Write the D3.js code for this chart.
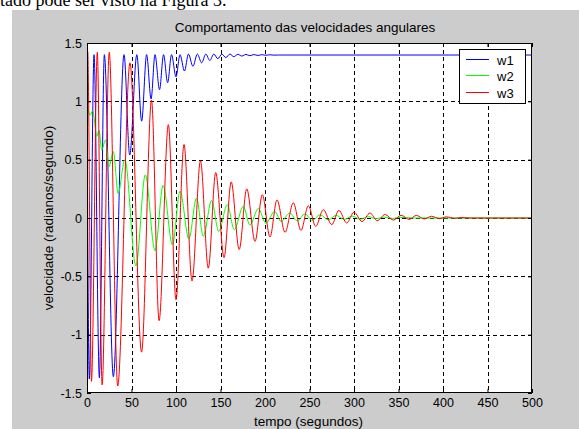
<!DOCTYPE html>
<html>
<head>
<meta charset="utf-8">
<script src="https://cdn.jsdelivr.net/npm/d3@7"></script>
<style>
  html, body { margin: 0; padding: 0; background: #ffffff; }
  svg { display: block; }
</style>
</head>
<body>
<svg id="chart" width="579" height="429"></svg>
<script>
// ---------------- DATA ----------------
const chartTitle = "Comportamento das velocidades angulares";
const xLabel = "tempo (segundos)";
const yLabel = "velocidade (radianos/segundo)";
const seriesNames = ["w1", "w2", "w3"];
const xTicks = [0, 50, 100, 150, 200, 250, 300, 350, 400, 450, 500];
const yTicks = [-1.5, -1, -0.5, 0, 0.5, 1, 1.5];
const yTickLabels = ["-1.5", "-1", "-0.5", "0", "0.5", "1", "1.5"];

// [time, value] at turning points of each curve
const w1 = [
  [0, 1.0], [2.6, -1.38], [7.9, 1.40], [13.9, -1.37], [19.5, 1.40], [29.6, -1.36],
  [41.6, 1.40], [48, 0.54], [56, 1.40], [61.4, 0.83], [67, 1.40], [72, 1.02],
  [76.4, 1.40], [81.5, 1.10], [86, 1.40], [90.6, 1.16], [95, 1.40], [100, 1.21],
  [104.5, 1.40], [109.5, 1.26], [114, 1.405], [119, 1.30], [124, 1.405], [128.8, 1.33],
  [133.5, 1.405], [138, 1.35], [142.5, 1.405], [147, 1.365], [151.5, 1.405], [156, 1.375],
  [160.5, 1.405], [165, 1.383], [169.5, 1.403], [174, 1.388], [178.5, 1.402], [183, 1.391],
  [187.5, 1.401], [192, 1.393], [196.5, 1.400], [201, 1.395], [205.5, 1.399], [210, 1.396],
  [215, 1.397], [500, 1.397]
];
const w2 = [
  [0, 1.0], [3.4, 0.88], [6.5, 0.92], [10.9, 0.70], [13.5, 0.75], [16.5, 0.585],
  [21, 0.67], [24.7, 0.44], [29.6, 0.57], [35, 0.21], [42.5, 0.50], [55, -0.41],
  [65.5, 0.37], [76.4, -0.28], [85.5, 0.28], [96, -0.23], [104.5, 0.23], [114.5, -0.18],
  [123, 0.17], [130.7, -0.157], [140, 0.15], [148, -0.115], [157.6, 0.114], [165.5, -0.10],
  [175.6, 0.10], [183, -0.06], [192.5, 0.08], [201, -0.045], [211, 0.057], [218, -0.03],
  [228, 0.043], [236, -0.025], [245, 0.035], [253, -0.02], [262, 0.028], [271, -0.015],
  [280, 0.022], [289, -0.012], [298, 0.016], [307, -0.01], [316, 0.012], [325, -0.006],
  [334, 0.008], [343, -0.004], [352, 0.005], [365, 0], [500, 0]
];
const w3 = [
  [0, 1.40], [0.8, 1.43], [5, -1.40], [11.6, 1.42], [17, -1.43], [25, 1.42],
  [34.5, -1.44], [48.3, 1.33], [61.3, -1.15], [72.5, 1.01], [81, -0.88], [91.4, 0.80],
  [100, -0.70], [109, 0.63], [118, -0.54], [127.5, 0.49], [136.3, -0.43], [144.6, 0.39],
  [154, -0.34], [162, 0.31], [171, -0.27], [179.5, 0.25], [188.8, -0.20], [197, 0.20],
  [205.6, -0.163], [213.5, 0.155], [222.5, -0.123], [231.8, 0.13], [240.4, -0.106], [248.7, 0.105],
  [257, -0.072], [265.5, 0.071], [275, -0.057], [283, 0.065], [291.8, -0.043], [300, 0.05],
  [309, -0.03], [318, 0.043], [326, -0.023], [335, 0.03], [344, -0.018], [353, 0.023],
  [362, -0.012], [370, 0.022], [379, -0.008], [387, 0.015], [396, -0.005], [404, 0.01],
  [413, -0.003], [421, 0.004], [430, 0], [500, 0]
];
const seriesData = [w1, w2, w3];
const seriesColors = ["#0000ff", "#00ff00", "#ff0000"];

// ---------------- LAYOUT ----------------
const svg = d3.select("#chart");
const W = 579, H = 429;
const plot = { left: 87, top: 43, right: 532, bottom: 393 };

// caption text above the figure (part of the page, cut by the top edge as in the reference)
svg.append("text")
  .attr("x", 0).attr("y", 6)
  .attr("font-family", "'Liberation Serif', 'Times New Roman', serif")
  .attr("font-size", 18)
  .attr("fill", "#000")
  .text("tado pode ser visto na Figura 3.");

// figure background
svg.append("rect")
  .attr("x", 12).attr("y", 10).attr("width", W - 12).attr("height", H - 10)
  .attr("fill", "#cccccc");

const x = d3.scaleLinear().domain([0, 500]).range([plot.left, plot.right]);
const y = d3.scaleLinear().domain([-1.5, 1.5]).range([plot.bottom, plot.top]);

// axes background
svg.append("rect")
  .attr("x", plot.left).attr("y", plot.top)
  .attr("width", plot.right - plot.left).attr("height", plot.bottom - plot.top)
  .attr("fill", "#ffffff");

// grid
const grid = svg.append("g").attr("shape-rendering", "crispEdges")
  .attr("stroke", "#000").attr("stroke-width", 1).attr("stroke-dasharray", "4,3");
grid.selectAll("line.vx").data(xTicks.slice(1, -1)).enter().append("line")
  .attr("x1", d => Math.round(x(d)) + 0.5).attr("x2", d => Math.round(x(d)) + 0.5)
  .attr("y1", plot.top).attr("y2", plot.bottom);
grid.selectAll("line.hy").data(yTicks.slice(1, -1)).enter().append("line")
  .attr("y1", d => Math.round(y(d)) + 0.5).attr("y2", d => Math.round(y(d)) + 0.5)
  .attr("x1", plot.left).attr("x2", plot.right);

// clip
svg.append("clipPath").attr("id", "clip").append("rect")
  .attr("x", plot.left).attr("y", plot.top)
  .attr("width", plot.right - plot.left).attr("height", plot.bottom - plot.top);

const line = d3.line().x(d => x(d[0])).y(d => y(d[1])).curve(d3.curveMonotoneX);
const lines = svg.append("g").attr("clip-path", "url(#clip)");
seriesData.forEach((s, i) => {
  lines.append("path").datum(s)
    .attr("d", line)
    .attr("fill", "none")
    .attr("stroke", seriesColors[i])
    .attr("stroke-width", 1);
});

// axes with inward ticks
const font = "'Liberation Sans', Arial, Helvetica, sans-serif";
const xAxis = d3.axisBottom(x).tickValues(xTicks).tickSizeInner(-4).tickSizeOuter(0).tickPadding(8);
const yAxis = d3.axisLeft(y).tickValues(yTicks).tickFormat((d, i) => yTickLabels[i])
  .tickSizeInner(-4).tickSizeOuter(0).tickPadding(8);
const gx = svg.append("g").attr("transform", `translate(0,${plot.bottom})`).call(xAxis);
const gy = svg.append("g").attr("transform", `translate(${plot.left},0)`).call(yAxis);
[gx, gy].forEach(g => {
  g.selectAll("text").attr("font-family", font).attr("font-size", 12.5).attr("fill", "#000");
  g.selectAll("line").attr("stroke", "#000");
  g.select(".domain").remove();
});
gx.selectAll("text").attr("dy", "0.71em").attr("y", 5);
gy.selectAll("text").attr("x", -5);

// top/right axes ticks
const gx2 = svg.append("g").attr("transform", `translate(0,${plot.top})`)
  .call(d3.axisTop(x).tickValues(xTicks).tickSizeInner(-4).tickSizeOuter(0).tickFormat(""));
const gy2 = svg.append("g").attr("transform", `translate(${plot.right},0)`)
  .call(d3.axisRight(y).tickValues(yTicks).tickSizeInner(-4).tickSizeOuter(0).tickFormat(""));
[gx2, gy2].forEach(g => { g.select(".domain").remove(); g.selectAll("line").attr("stroke", "#000"); });

// axes box
svg.append("rect")
  .attr("x", plot.left + 0.5).attr("y", plot.top + 0.5)
  .attr("width", plot.right - plot.left - 1).attr("height", plot.bottom - plot.top - 1)
  .attr("fill", "none").attr("stroke", "#000").attr("stroke-width", 1)
  .attr("shape-rendering", "crispEdges");

// title and labels
svg.append("text").attr("x", 305).attr("y", 31.5)
  .attr("text-anchor", "middle").attr("font-family", font).attr("font-size", 13.5)
  .text(chartTitle);
svg.append("text").attr("x", 308.5).attr("y", 426)
  .attr("text-anchor", "middle").attr("font-family", font).attr("font-size", 13.5)
  .text(xLabel);
svg.append("text")
  .attr("transform", `translate(53,${(plot.top + plot.bottom) / 2}) rotate(-90)`)
  .attr("text-anchor", "middle").attr("font-family", font).attr("font-size", 13.5)
  .text(yLabel);

// legend
const lg = svg.append("g");
lg.append("rect").attr("x", 459.5).attr("y", 49.5).attr("width", 66).attr("height", 54)
  .attr("fill", "#fff").attr("stroke", "#000").attr("stroke-width", 1)
  .attr("shape-rendering", "crispEdges");
const legendRows = [59.5, 75.5, 92.5];
seriesNames.forEach((n, i) => {
  lg.append("line").attr("x1", 466).attr("x2", 489)
    .attr("y1", legendRows[i]).attr("y2", legendRows[i])
    .attr("stroke", seriesColors[i]).attr("stroke-width", 1)
    .attr("shape-rendering", "crispEdges");
  lg.append("text").attr("x", 497).attr("y", legendRows[i] + 5)
    .attr("font-family", font).attr("font-size", 13).text(n);
});
</script>
</body>
</html>
